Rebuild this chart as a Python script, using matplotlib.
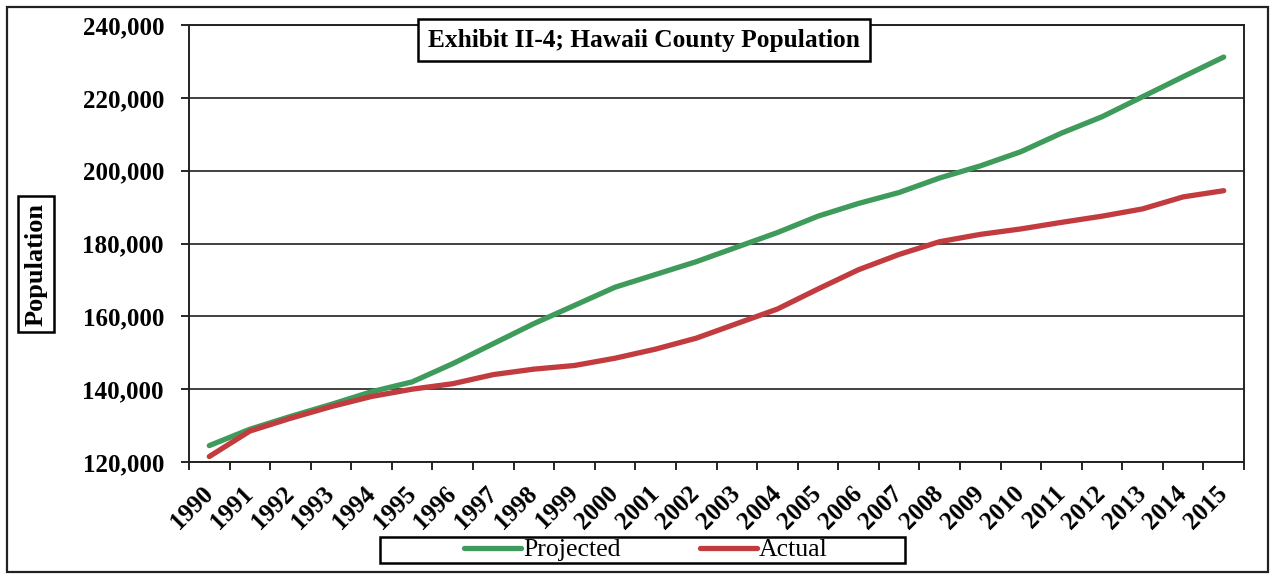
import matplotlib.pyplot as plt
from matplotlib.patches import Rectangle
from matplotlib.ticker import FuncFormatter, FixedLocator

# Hawaii County population, 1990-2015
years = [str(y) for y in range(1990, 2016)]
projected = [124500, 129000, 132500, 135800, 139300, 142000, 147000, 152500,
             158000, 163000, 168000, 171500, 175000, 179000, 183000, 187500,
             191000, 194000, 198000, 201300, 205200, 210300, 214800, 220300,
             225800, 231200]
actual = [121500, 128500, 132000, 135200, 138000, 140000, 141500, 144000,
          145500, 146500, 148500, 151000, 154000, 158000, 162000, 167500,
          172800, 177000, 180500, 182500, 184000, 185800, 187500, 189500,
          192800, 194500]

plt.rcParams['font.family'] = ['Liberation Serif', 'DejaVu Serif']

fig = plt.figure(figsize=(12.71, 5.78), dpi=100)
ax = fig.add_axes([189 / 1271, 1 - 462 / 578, (1244 - 189) / 1271, (462 - 25) / 578])

x = list(range(len(years)))
ax.plot(x, projected, color='#3f9b5b', linewidth=3.8, solid_capstyle='round', label='Projected', zorder=3)
ax.plot(x, actual, color='#c23b3e', linewidth=3.8, solid_capstyle='round', label='Actual', zorder=4)

ax.set_xlim(-0.5, len(years) - 0.5)
ax.set_ylim(120000, 240000)
ax.set_yticks(range(120000, 240001, 20000))
ax.yaxis.set_major_formatter(FuncFormatter(lambda v, p: f"{int(v):,}"))
ax.grid(axis='y', color='#333333', linewidth=1.3)
ax.set_axisbelow(True)

# category labels at the centres, tick marks between categories
ax.set_xticks(x)
ax.set_xticklabels(years, rotation=45, ha='right', va='center', rotation_mode='anchor',
                   fontsize=18, fontweight='bold')
ax.tick_params(axis='x', which='major', length=0, pad=20)
ax.xaxis.set_minor_locator(FixedLocator([i - 0.5 for i in range(len(years) + 1)]))
ax.tick_params(axis='x', which='minor', length=6, width=1.2, direction='out')
ax.tick_params(axis='y', length=6, width=1.2, labelsize=18, pad=12)
for lab in ax.get_yticklabels():
    lab.set_fontweight('bold')

for s in ax.spines.values():
    s.set_linewidth(1.4)
    s.set_color('#222222')

# title box
fig.text(644 / 1271, 1 - 40 / 578, "Exhibit II-4; Hawaii County Population",
         ha='center', va='center', fontsize=18.3, fontweight='bold',
         bbox=dict(facecolor='white', edgecolor='black', linewidth=1.8, boxstyle='square,pad=0.38'),
         zorder=10)

# y label box
fig.text(36 / 1271, 1 - 264 / 578, "Population", rotation=90, ha='center', va='center',
         fontsize=19, fontweight='bold',
         bbox=dict(facecolor='white', edgecolor='black', linewidth=1.8, boxstyle='square,pad=0.25'))

# legend
fig.patches.append(Rectangle((380 / 1271, 1 - 563 / 578), 525 / 1271, 26 / 578,
                             transform=fig.transFigure, facecolor='white',
                             edgecolor='black', linewidth=1.8))
fig.legend(loc='center', bbox_to_anchor=(646 / 1271, 1 - 550 / 578), ncol=2, frameon=False,
           fontsize=18.5, handlelength=2.2, handletextpad=0.08, columnspacing=3.1,
           borderpad=0, borderaxespad=0)

# outer frame
fig.patches.append(Rectangle((7 / 1271, 6 / 578), 1261 / 1271, 565 / 578,
                             transform=fig.transFigure, facecolor='none',
                             edgecolor='#222222', linewidth=1.6))

plt.savefig("out.png", dpi=100)
